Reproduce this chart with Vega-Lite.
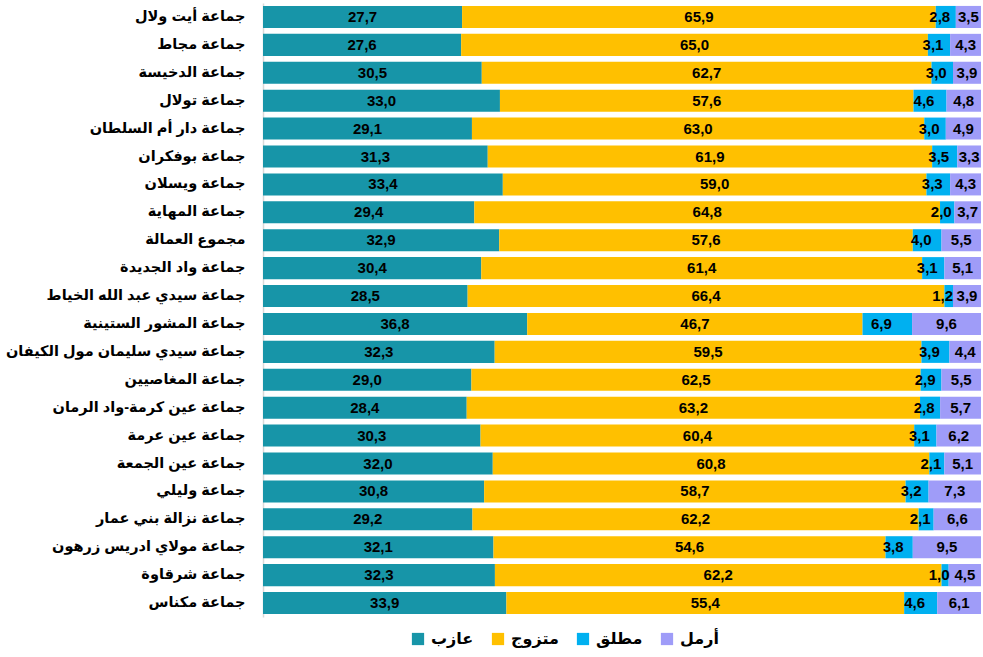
{
  "$schema": "https://vega.github.io/schema/vega-lite/v6.json",
  "width": 718,
  "height": 614,
  "autosize": "none",
  "padding": {"left": 263, "top": 3, "right": 2, "bottom": 40},
  "background": "white",
  "config": {
    "locale": {"number": {"decimal": ",", "thousands": ".", "grouping": [3], "currency": ["", ""]}},
    "view": {"stroke": null},
    "font": "Arial, Liberation Sans, DejaVu Sans"
  },
  "data": {"values": [
    {"c":"جماعة أيت ولال","s":"عازب","o":1,"v":27.7},{"c":"جماعة أيت ولال","s":"متزوج","o":2,"v":65.9},{"c":"جماعة أيت ولال","s":"مطلق","o":3,"v":2.8},{"c":"جماعة أيت ولال","s":"أرمل","o":4,"v":3.5},
    {"c":"جماعة مجاط","s":"عازب","o":1,"v":27.6},{"c":"جماعة مجاط","s":"متزوج","o":2,"v":65.0},{"c":"جماعة مجاط","s":"مطلق","o":3,"v":3.1},{"c":"جماعة مجاط","s":"أرمل","o":4,"v":4.3},
    {"c":"جماعة الدخيسة","s":"عازب","o":1,"v":30.5},{"c":"جماعة الدخيسة","s":"متزوج","o":2,"v":62.7},{"c":"جماعة الدخيسة","s":"مطلق","o":3,"v":3.0},{"c":"جماعة الدخيسة","s":"أرمل","o":4,"v":3.9},
    {"c":"جماعة تولال","s":"عازب","o":1,"v":33.0},{"c":"جماعة تولال","s":"متزوج","o":2,"v":57.6},{"c":"جماعة تولال","s":"مطلق","o":3,"v":4.6},{"c":"جماعة تولال","s":"أرمل","o":4,"v":4.8},
    {"c":"جماعة دار أم السلطان","s":"عازب","o":1,"v":29.1},{"c":"جماعة دار أم السلطان","s":"متزوج","o":2,"v":63.0},{"c":"جماعة دار أم السلطان","s":"مطلق","o":3,"v":3.0},{"c":"جماعة دار أم السلطان","s":"أرمل","o":4,"v":4.9},
    {"c":"جماعة بوفكران","s":"عازب","o":1,"v":31.3},{"c":"جماعة بوفكران","s":"متزوج","o":2,"v":61.9},{"c":"جماعة بوفكران","s":"مطلق","o":3,"v":3.5},{"c":"جماعة بوفكران","s":"أرمل","o":4,"v":3.3},
    {"c":"جماعة ويسلان","s":"عازب","o":1,"v":33.4},{"c":"جماعة ويسلان","s":"متزوج","o":2,"v":59.0},{"c":"جماعة ويسلان","s":"مطلق","o":3,"v":3.3},{"c":"جماعة ويسلان","s":"أرمل","o":4,"v":4.3},
    {"c":"جماعة المهاية","s":"عازب","o":1,"v":29.4},{"c":"جماعة المهاية","s":"متزوج","o":2,"v":64.8},{"c":"جماعة المهاية","s":"مطلق","o":3,"v":2.0},{"c":"جماعة المهاية","s":"أرمل","o":4,"v":3.7},
    {"c":"مجموع العمالة","s":"عازب","o":1,"v":32.9},{"c":"مجموع العمالة","s":"متزوج","o":2,"v":57.6},{"c":"مجموع العمالة","s":"مطلق","o":3,"v":4.0},{"c":"مجموع العمالة","s":"أرمل","o":4,"v":5.5},
    {"c":"جماعة واد الجديدة","s":"عازب","o":1,"v":30.4},{"c":"جماعة واد الجديدة","s":"متزوج","o":2,"v":61.4},{"c":"جماعة واد الجديدة","s":"مطلق","o":3,"v":3.1},{"c":"جماعة واد الجديدة","s":"أرمل","o":4,"v":5.1},
    {"c":"جماعة سيدي عبد الله الخياط","s":"عازب","o":1,"v":28.5},{"c":"جماعة سيدي عبد الله الخياط","s":"متزوج","o":2,"v":66.4},{"c":"جماعة سيدي عبد الله الخياط","s":"مطلق","o":3,"v":1.2},{"c":"جماعة سيدي عبد الله الخياط","s":"أرمل","o":4,"v":3.9},
    {"c":"جماعة المشور الستينية","s":"عازب","o":1,"v":36.8},{"c":"جماعة المشور الستينية","s":"متزوج","o":2,"v":46.7},{"c":"جماعة المشور الستينية","s":"مطلق","o":3,"v":6.9},{"c":"جماعة المشور الستينية","s":"أرمل","o":4,"v":9.6},
    {"c":"جماعة سيدي سليمان مول الكيفان","s":"عازب","o":1,"v":32.3},{"c":"جماعة سيدي سليمان مول الكيفان","s":"متزوج","o":2,"v":59.5},{"c":"جماعة سيدي سليمان مول الكيفان","s":"مطلق","o":3,"v":3.9},{"c":"جماعة سيدي سليمان مول الكيفان","s":"أرمل","o":4,"v":4.4},
    {"c":"جماعة المغاصيين","s":"عازب","o":1,"v":29.0},{"c":"جماعة المغاصيين","s":"متزوج","o":2,"v":62.5},{"c":"جماعة المغاصيين","s":"مطلق","o":3,"v":2.9},{"c":"جماعة المغاصيين","s":"أرمل","o":4,"v":5.5},
    {"c":"جماعة عين كرمة-واد الرمان","s":"عازب","o":1,"v":28.4},{"c":"جماعة عين كرمة-واد الرمان","s":"متزوج","o":2,"v":63.2},{"c":"جماعة عين كرمة-واد الرمان","s":"مطلق","o":3,"v":2.8},{"c":"جماعة عين كرمة-واد الرمان","s":"أرمل","o":4,"v":5.7},
    {"c":"جماعة عين عرمة","s":"عازب","o":1,"v":30.3},{"c":"جماعة عين عرمة","s":"متزوج","o":2,"v":60.4},{"c":"جماعة عين عرمة","s":"مطلق","o":3,"v":3.1},{"c":"جماعة عين عرمة","s":"أرمل","o":4,"v":6.2},
    {"c":"جماعة عين الجمعة","s":"عازب","o":1,"v":32.0},{"c":"جماعة عين الجمعة","s":"متزوج","o":2,"v":60.8},{"c":"جماعة عين الجمعة","s":"مطلق","o":3,"v":2.1},{"c":"جماعة عين الجمعة","s":"أرمل","o":4,"v":5.1},
    {"c":"جماعة وليلي","s":"عازب","o":1,"v":30.8},{"c":"جماعة وليلي","s":"متزوج","o":2,"v":58.7},{"c":"جماعة وليلي","s":"مطلق","o":3,"v":3.2},{"c":"جماعة وليلي","s":"أرمل","o":4,"v":7.3},
    {"c":"جماعة نزالة بني عمار","s":"عازب","o":1,"v":29.2},{"c":"جماعة نزالة بني عمار","s":"متزوج","o":2,"v":62.2},{"c":"جماعة نزالة بني عمار","s":"مطلق","o":3,"v":2.1},{"c":"جماعة نزالة بني عمار","s":"أرمل","o":4,"v":6.6},
    {"c":"جماعة مولاي ادريس زرهون","s":"عازب","o":1,"v":32.1},{"c":"جماعة مولاي ادريس زرهون","s":"متزوج","o":2,"v":54.6},{"c":"جماعة مولاي ادريس زرهون","s":"مطلق","o":3,"v":3.8},{"c":"جماعة مولاي ادريس زرهون","s":"أرمل","o":4,"v":9.5},
    {"c":"جماعة شرقاوة","s":"عازب","o":1,"v":32.3},{"c":"جماعة شرقاوة","s":"متزوج","o":2,"v":62.2},{"c":"جماعة شرقاوة","s":"مطلق","o":3,"v":1.0},{"c":"جماعة شرقاوة","s":"أرمل","o":4,"v":4.5},
    {"c":"جماعة مكناس","s":"عازب","o":1,"v":33.9},{"c":"جماعة مكناس","s":"متزوج","o":2,"v":55.4},{"c":"جماعة مكناس","s":"مطلق","o":3,"v":4.6},{"c":"جماعة مكناس","s":"أرمل","o":4,"v":6.1}
  ]},
  "transform": [
    {"stack": "v", "groupby": ["c"], "sort": [{"field": "o", "order": "ascending"}], "offset": "normalize", "as": ["x0", "x1"]},
    {"calculate": "(datum.x0 + datum.x1) / 2", "as": "xm"}
  ],
  "encoding": {
    "y": {
      "field": "c", "type": "nominal", "sort": null, "title": null,
      "scale": {"paddingInner": 0.21, "paddingOuter": 0.105},
      "axis": {"ticks": false, "domainColor": "#d9d9d9", "domainWidth": 1.5, "labelFontSize": 14.5, "labelFontWeight": "bold", "labelColor": "#000000", "labelPadding": 18, "labelLimit": 300, "labelFont": "Arial, Liberation Sans, DejaVu Sans"}
    }
  },
  "layer": [
    {
      "mark": {"type": "bar"},
      "encoding": {
        "x": {"field": "x0", "type": "quantitative", "scale": {"domain": [0, 1]}, "axis": null},
        "x2": {"field": "x1"},
        "color": {
          "field": "s", "type": "nominal",
          "scale": {"domain": ["عازب", "متزوج", "مطلق", "أرمل"], "range": ["#1795A8", "#FFC000", "#00B0F0", "#9F9CF8"]},
          "legend": {"title": null, "orient": "none", "direction": "horizontal", "legendX": 147, "legendY": 628, "symbolType": "square", "symbolSize": 150, "symbolStrokeWidth": 0, "symbolOpacity": 1, "labelFontSize": 16, "labelFontWeight": "bold", "labelColor": "#000000", "labelOffset": 5, "columnPadding": 16, "labelFont": "Arial, Liberation Sans, DejaVu Sans"}
        }
      }
    },
    {
      "transform": [{"filter": "datum.s !== 'مطلق'"}],
      "mark": {"type": "text", "fontSize": 15, "fontWeight": "bold", "color": "#000000", "font": "Liberation Sans"},
      "encoding": {
        "x": {"field": "xm", "type": "quantitative"},
        "text": {"field": "v", "type": "quantitative", "format": ".1f"}
      }
    },
    {
      "transform": [{"filter": "datum.s === 'مطلق'"}],
      "mark": {"type": "text", "fontSize": 15, "fontWeight": "bold", "color": "#000000", "font": "Liberation Sans", "dx": -6},
      "encoding": {
        "x": {"field": "xm", "type": "quantitative"},
        "text": {"field": "v", "type": "quantitative", "format": ".1f"}
      }
    }
  ]
}
